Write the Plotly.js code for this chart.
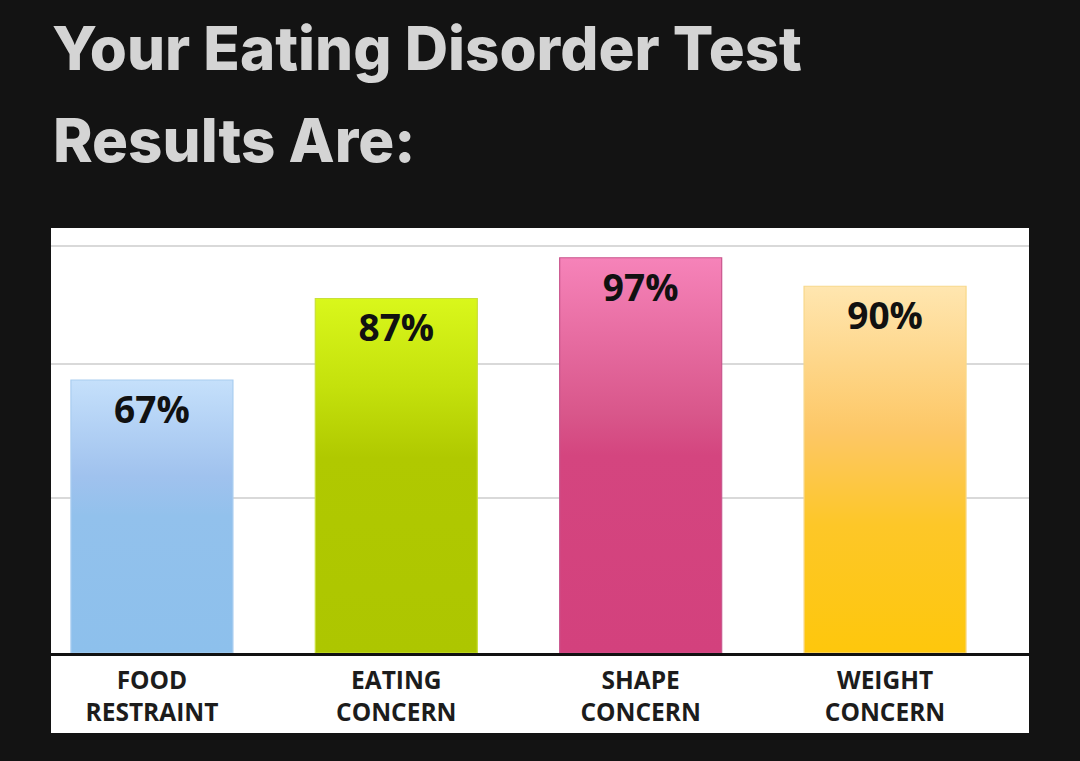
<!DOCTYPE html>
<html><head><meta charset="utf-8">
<script src="https://cdn.plot.ly/plotly-3.0.1.min.js"></script>
<style>html,body{margin:0;padding:0;background:#131313;}#chart{width:1080px;height:761px;}</style>
</head><body><div id="chart"></div>
<script>
// ---- data ----
const categories = ['FOOD<br>RESTRAINT', 'EATING<br>CONCERN', 'SHAPE<br>CONCERN', 'WEIGHT<br>CONCERN'];
const scores = [67, 87, 97, 90];
const scoreLabels = ['67%', '87%', '97%', '90%'];
const gridValues = [38, 71, 100];
const titleLine1 = 'Your Eating Disorder Test';
const titleLine2 = 'Results Are:';

// ---- styles ----
const gradients = [
  [[0,'#8dc0ec'],[0.5,'#92c1ec'],[0.65,'#a0c2ee'],[1,'#c5e0fb']],
  [[0,'#adc600'],[0.55,'#b0c900'],[0.75,'#c4e10c'],[1,'#d9f71b']],
  [[0,'#d3417d'],[0.5,'#d4457f'],[0.6,'#d8568a'],[1,'#f683b9']],
  [[0,'#fec70c'],[0.35,'#fdc728'],[0.6,'#fdc765'],[1,'#ffe6b0']]
];
const borderColors = ['#a9cdf0', '#c8e03a', '#c9558d', '#f8d88a'];
const barWidth = 0.663;
const yRange = [0, 104.3];
const titleFont = { family: 'Inter', size: 60, weight: 800, color: '#d4d4d4' };

const positions = categories.map((c, i) => i);

const traces = [];
// gradient fills of the bars
positions.forEach((p, i) => {
  traces.push({
    type: 'scatter',
    x: [p - barWidth/2, p + barWidth/2, p + barWidth/2, p - barWidth/2],
    y: [0, 0, scores[i], scores[i]],
    mode: 'none',
    fill: 'toself',
    fillgradient: { type: 'vertical', colorscale: gradients[i] },
    hoverinfo: 'skip',
    showlegend: false
  });
});
// bar outlines + value labels on an overlaid axis (drawn above the fills)
traces.push({
  type: 'bar',
  x: positions,
  y: scores,
  yaxis: 'y2',
  width: barWidth,
  text: scoreLabels,
  textposition: 'inside',
  insidetextanchor: 'end',
  constraintext: 'none',
  textangle: 0,
  textfont: { family: 'Open Sans', size: 37, weight: 700, color: '#111111' },
  marker: { color: 'rgba(0,0,0,0)', line: { color: borderColors, width: 1.2 } },
  hoverinfo: 'skip',
  showlegend: false
});

const layout = {
  width: 1080, height: 761,
  paper_bgcolor: '#131313',
  plot_bgcolor: '#ffffff',
  margin: { l: 51, r: 51, t: 228, b: 108, pad: 0 },
  title: {
    text: titleLine1,
    x: 52/1080, xanchor: 'left',
    y: 1 - 28/761, yanchor: 'top',
    font: titleFont
  },
  annotations: [{
    text: titleLine2,
    xref: 'paper', yref: 'paper',
    x: 0, xanchor: 'left', xshift: 0,
    y: 1 + (228 - 102)/425, yanchor: 'top',
    showarrow: false,
    font: titleFont
  }],
  xaxis: {
    range: [-0.413, 3.589],
    tickvals: positions,
    ticktext: categories,
    showgrid: false, zeroline: false,
    showline: true, linecolor: '#111111', linewidth: 2.5,
    ticks: '',
    ticklabelstandoff: 4,
    tickfont: { family: 'Open Sans', size: 24.5, weight: 700, color: '#1c1c1c' },
    fixedrange: true
  },
  yaxis: {
    range: yRange,
    tickvals: gridValues,
    showticklabels: false,
    showgrid: true, gridcolor: '#d9d9d9', gridwidth: 2,
    zeroline: false, showline: false, ticks: '',
    fixedrange: true
  },
  yaxis2: {
    range: yRange, overlaying: 'y', visible: false, fixedrange: true
  },
  bargap: 0,
  shapes: [{
    type: 'rect', xref: 'paper', yref: 'paper',
    x0: 0, x1: 1, y0: -80/425, y1: 0,
    fillcolor: '#ffffff', line: { width: 0 }, layer: 'below'
  }]
};

Plotly.newPlot('chart', traces, layout, { displayModeBar: false, staticPlot: true });
</script>
</body></html>
